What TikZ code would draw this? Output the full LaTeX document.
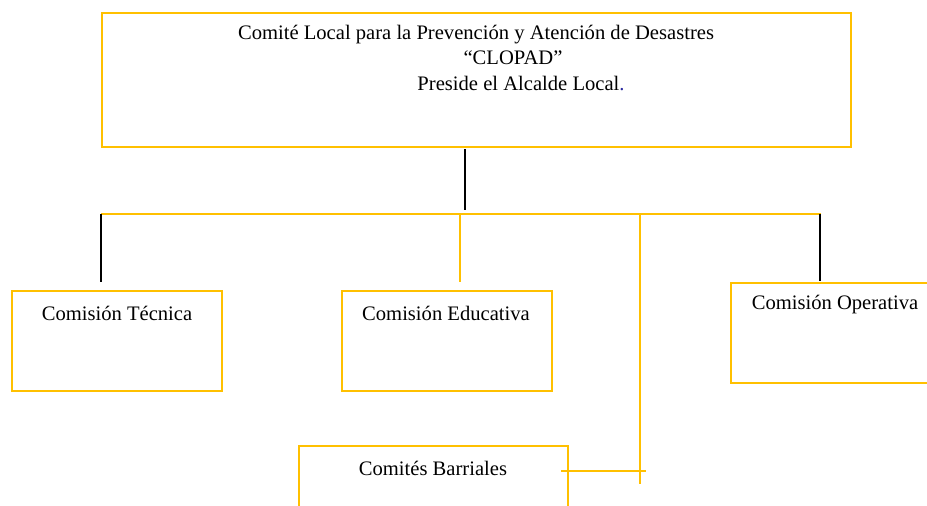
\documentclass[tikz,border=0pt]{standalone}
\usepackage{fontspec}
\setmainfont{Liberation Serif}
\usetikzlibrary{positioning}
\definecolor{oro}{HTML}{FFC000}
\definecolor{azulpunto}{HTML}{2A2AA0}
\begin{document}
\begin{tikzpicture}[x=1pt,y=-1pt,line cap=butt,
  caja/.style={draw=oro,line width=1.6pt,inner sep=0pt,anchor=north west},
  texto/.style={font=\fontsize{20.6}{24}\selectfont,inner sep=0pt,anchor=center},
  rama/.style={draw=oro,line width=1.6pt},
  negra/.style={draw=black,line width=1.3pt}]
\useasboundingbox (0,0) rectangle (927,506);
\clip (0,0) rectangle (927,506);
% cajas
\node[caja,minimum width=749pt,minimum height=134pt] (clopad) at (101,12) {};
\node[caja,minimum width=210pt,minimum height=100pt] (tecnica) at (11,290) {};
\node[caja,minimum width=210pt,minimum height=100pt] (educativa) at (341,290) {};
\node[caja,minimum width=210pt,minimum height=100pt] (operativa) at (730,282) {};
\node[caja,minimum width=269pt,minimum height=100pt] (barriales) at (298,445) {};
% textos
\node[texto] (titulo) at (476,35) {Comité Local para la Prevención y Atención de Desastres};
\node[texto] (sigla) at (513,58) {“CLOPAD”};
\node[texto] (preside) at (521,83) {Preside el Alcalde Local\textcolor{azulpunto}{.}};
\node[texto] (tecnica-txt) at (117,313) {Comisión Técnica};
\node[texto] (educativa-txt) at (446,313) {Comisión Educativa};
\node[texto] (operativa-txt) at (835,305) {Comisión Operativa};
\node[texto] (barriales-txt) at (433,468) {Comités Barriales};
% puntos del bus
\coordinate (sube) at (465,149);
\coordinate (baja) at (465,210);
\coordinate (bus-izq) at (101,214);
\coordinate (bus-der) at (821,214);
\coordinate (bus-edu) at (460,214);
\coordinate (bus-bar) at (640,214);
\coordinate (bus-ope) at (820,214);
\coordinate (fin-tec) at (101,282);
\coordinate (fin-edu) at (460,282);
\coordinate (fin-bar) at (640,484);
\coordinate (fin-ope) at (820,281);
\coordinate (cruce-a) at (561,471);
\coordinate (cruce-b) at (646,471);
% conectores
\draw[negra] (sube) -- (baja);
\draw[rama] (bus-izq) -- (bus-der);
\draw[negra] (bus-izq) -- (fin-tec);
\draw[rama] (bus-edu) -- (fin-edu);
\draw[rama] (bus-bar) -- (fin-bar);
\draw[negra] (bus-ope) -- (fin-ope);
\draw[rama] (cruce-a) -- (cruce-b);
\end{tikzpicture}
\end{document}
